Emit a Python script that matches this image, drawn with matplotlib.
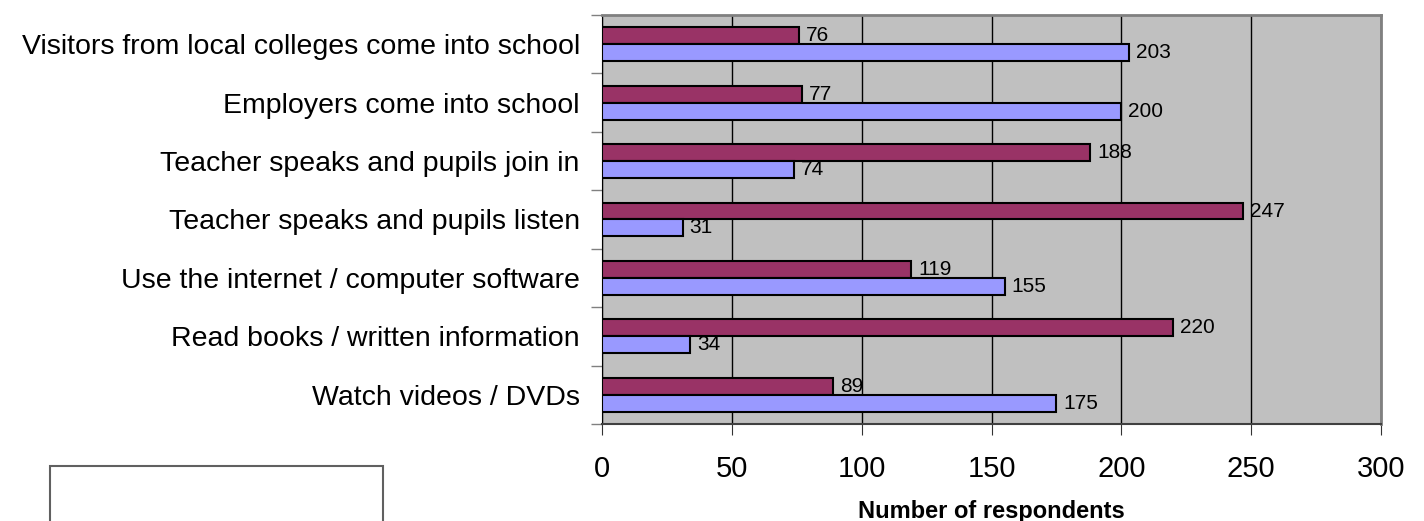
import matplotlib.pyplot as plt
import numpy as np

plt.rcParams['font.family'] = ['Liberation Sans', 'DejaVu Sans']

# categories from bottom to top
categories = ['Watch videos / DVDs',
              'Read books / written information',
              'Use the internet / computer software',
              'Teacher speaks and pupils listen',
              'Teacher speaks and pupils join in',
              'Employers come into school',
              'Visitors from local colleges come into school']
series_a = [89, 220, 119, 247, 188, 77, 76]      # purple (upper bar)
series_b = [175, 34, 155, 31, 74, 200, 203]      # blue (lower bar)

fig = plt.figure(figsize=(14.24, 5.21), dpi=100)
ax = fig.add_axes([0.4228, 0.1862, 0.5470, 0.7850])
ax.set_facecolor('#C0C0C0')

y = np.arange(len(categories))
h = 0.29
ax.barh(y + h / 2, series_a, height=h, color='#993366', edgecolor='black', linewidth=1.5, zorder=3)
ax.barh(y - h / 2, series_b, height=h, color='#9999FF', edgecolor='black', linewidth=1.5, zorder=3)

for yi, v in zip(y, series_a):
    ax.annotate(str(v), (v, yi + h / 2), xytext=(5, 0), textcoords='offset points',
                va='center', ha='left', fontsize=15)
for yi, v in zip(y, series_b):
    ax.annotate(str(v), (v, yi - h / 2), xytext=(5, 0), textcoords='offset points',
                va='center', ha='left', fontsize=15)

ax.set_xlim(0, 300)
ax.set_ylim(-0.5, len(categories) - 0.5)
ax.set_xticks(range(0, 301, 50))
ax.xaxis.grid(True, color='black', linewidth=1, zorder=1)
ax.tick_params(axis='x', labelsize=21, length=8, direction='out', color='#333333', pad=14)

ax.set_yticks(y)
ax.set_yticklabels(categories, fontsize=20.5)
ax.set_yticks(np.arange(-0.5, len(categories), 1), minor=True)
ax.tick_params(axis='y', which='major', length=0, pad=16)
ax.tick_params(axis='y', which='minor', length=8, color='#808080', width=1)

for s in ['top', 'right']:
    ax.spines[s].set_color('#808080')
    ax.spines[s].set_linewidth(2)
ax.spines['left'].set_color('black')
ax.spines['bottom'].set_color('#404040')
ax.spines['bottom'].set_linewidth(1.5)

ax.set_xlabel('Number of respondents', fontsize=17, fontweight='bold', va='baseline')
ax.xaxis.set_label_coords(0.5, -0.2298)

# empty legend box at bottom left
fig.patches.append(plt.Rectangle((50 / 1424, -0.1), 333 / 1424, 0.1 + 55 / 521,
                                 transform=fig.transFigure, facecolor='white',
                                 edgecolor='#606060', linewidth=1.5))

fig.savefig('out.png', dpi=100)
